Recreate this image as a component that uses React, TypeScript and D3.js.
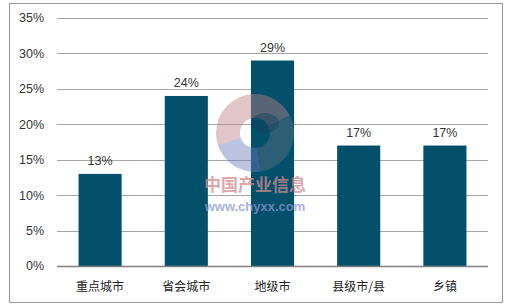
import React from "react";
import * as d3 from "d3";

const categories = ["重点城市", "省会城市", "地级市", "县级市/县", "乡镇"];
const values = [13, 24, 29, 17, 17];
const yTicks = [0, 5, 10, 15, 20, 25, 30, 35];

export default function App() {
  const W = 510, H = 307;
  const x0 = 57, x1 = 488, yTop = 18, yBot = 266;
  const x = d3.scaleBand<string>().domain(categories).range([x0, x1]).paddingInner(0.5).paddingOuter(0.25);
  const y = d3.scaleLinear().domain([0, 35]).range([yBot, yTop]);
  const font = "Arial, 'Liberation Sans', sans-serif";
  const cx = 255, cy = 133, R = 39, r = 15;
  const arc = d3.arc();
  const seg = (a0: number, a1: number) =>
    arc({ innerRadius: r, outerRadius: R, startAngle: a0, endAngle: a1 }) as string;
  return (
    <svg width={W} height={H} style={{ position: "absolute", left: 0, top: 0 }}>
      <rect x={0} y={0} width={W} height={H} fill="#fff" />
      <rect x={9.5} y={3.5} width={493} height={299} fill="#fff" stroke="#9a9a9a" strokeWidth={1} />
      {yTicks.map((t) => (
        <g key={t}>
          {t > 0 && (
            <line x1={x0} x2={x1} y1={Math.round(y(t)) + 0.5} y2={Math.round(y(t)) + 0.5} stroke="#a6a6a6" strokeWidth={1} />
          )}
          <text x={44} y={y(t)} dy="0.35em" textAnchor="end" fontFamily={font} fontSize={12.5} fill="#333">
            {t}%
          </text>
        </g>
      ))}
      {categories.map((c, i) => (
        <g key={c}>
          <rect x={x(c)} y={y(values[i])} width={x.bandwidth()} height={yBot - y(values[i])} fill="#03506c" />
          <text x={(x(c) as number) + x.bandwidth() / 2} y={y(values[i]) - 9} textAnchor="middle" fontFamily={font} fontSize={12.5} fill="#333">
            {values[i]}%
          </text>
          <text x={(x(c) as number) + x.bandwidth() / 2} y={287} dy="0.35em" textAnchor="middle" fontFamily="'Noto Sans CJK SC', sans-serif" fontSize={12} fill="#222">
            {c}
          </text>
        </g>
      ))}
      <line x1={x0} x2={x1} y1={yBot + 0.5} y2={yBot + 0.5} stroke="#7f7f7f" strokeWidth={1.5} />
      <g transform={`translate(${cx},${cy})`} opacity={0.45}>
        <path d={seg(-Math.PI * 0.62, Math.PI * 0.35)} fill="#c07f86" />
        <path d={seg(Math.PI * 0.95, Math.PI * 1.4)} fill="#6f7dbd" />
        <path d={seg(Math.PI * 0.35, Math.PI * 0.95)} fill="#5f6f7f" />
        <ellipse cx={10} cy={-10} rx={14} ry={10} fill="#2a3050" opacity={0.5} />
      </g>
      <text x={255} y={185} dy="0.35em" textAnchor="middle" fontFamily="'Noto Sans CJK SC', sans-serif" fontWeight="bold" fontSize={17} fill="#d08a8e" opacity={0.75}>
        中国产业信息
      </text>
      <text x={255} y={206} dy="0.35em" textAnchor="middle" fontFamily={font} fontWeight="bold" fontSize={13} fill="#8d97cf" opacity={0.75}>
        www.chyxx.com
      </text>
    </svg>
  );
}
